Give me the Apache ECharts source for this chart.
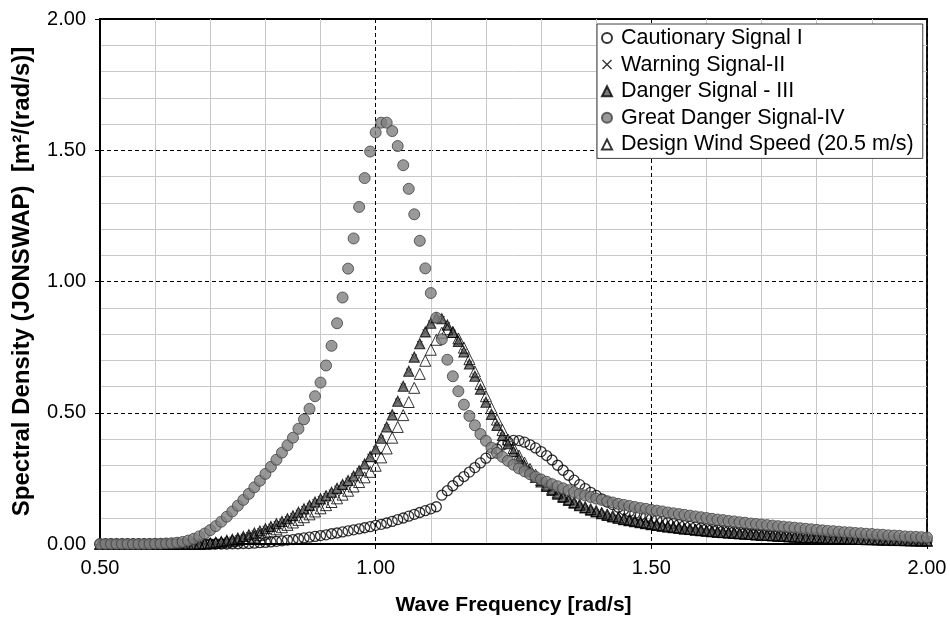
<!DOCTYPE html>
<html>
<head>
<meta charset="utf-8">
<script src="https://cdn.jsdelivr.net/npm/echarts@6/dist/echarts.min.js"></script>
<style>
html,body{margin:0;padding:0;background:#fff;}
#chart{width:950px;height:621px;}
</style>
</head>
<body>
<div id="chart"></div>
<script>
// Wave frequency [rad/s]
const frequencies = [
0.50,0.51,0.52,0.53,0.54,0.55,0.56,0.57,0.58,0.59,
0.60,0.61,0.62,0.63,0.64,0.65,0.66,0.67,0.68,0.69,
0.70,0.71,0.72,0.73,0.74,0.75,0.76,0.77,0.78,0.79,
0.80,0.81,0.82,0.83,0.84,0.85,0.86,0.87,0.88,0.89,
0.90,0.91,0.92,0.93,0.94,0.95,0.96,0.97,0.98,0.99,
1.00,1.01,1.02,1.03,1.04,1.05,1.06,1.07,1.08,1.09,
1.10,1.11,1.12,1.13,1.14,1.15,1.16,1.17,1.18,1.19,
1.20,1.21,1.22,1.23,1.24,1.25,1.26,1.27,1.28,1.29,
1.30,1.31,1.32,1.33,1.34,1.35,1.36,1.37,1.38,1.39,
1.40,1.41,1.42,1.43,1.44,1.45,1.46,1.47,1.48,1.49,
1.50,1.51,1.52,1.53,1.54,1.55,1.56,1.57,1.58,1.59,
1.60,1.61,1.62,1.63,1.64,1.65,1.66,1.67,1.68,1.69,
1.70,1.71,1.72,1.73,1.74,1.75,1.76,1.77,1.78,1.79,
1.80,1.81,1.82,1.83,1.84,1.85,1.86,1.87,1.88,1.89,
1.90,1.91,1.92,1.93,1.94,1.95,1.96,1.97,1.98,1.99,
2.00];

const cautionarySignal = [
0,0,0,0,0,0,0,0,0,0,
0,0,0,0,0,0,0,0,0,0,
0,0,0,0,0.001,0.001,0.002,0.002,0.003,0.005,
0.006,0.008,0.010,0.012,0.015,0.017,0.020,0.023,0.026,0.029,
0.032,0.035,0.039,0.042,0.046,0.050,0.054,0.058,0.062,0.066,
0.071,0.075,0.080,0.086,0.093,0.099,0.106,0.113,0.120,0.127,
0.134,0.142,0.186,0.203,0.222,0.240,0.257,0.274,0.291,0.309,
0.327,0.345,0.362,0.377,0.389,0.395,0.394,0.388,0.378,0.366,
0.352,0.337,0.320,0.300,0.281,0.262,0.243,0.226,0.211,0.197,
0.185,0.172,0.160,0.150,0.140,0.131,0.123,0.116,0.109,0.102,
0.096,0.091,0.086,0.082,0.078,0.074,0.070,0.067,0.064,0.061,
0.058,0.055,0.053,0.050,0.048,0.046,0.044,0.042,0.040,0.039,
0.037,0.036,0.034,0.033,0.032,0.030,0.029,0.028,0.027,0.026,
0.025,0.024,0.023,0.023,0.022,0.021,0.020,0.020,0.019,0.018,
0.018,0.017,0.016,0.016,0.015,0.015,0.014,0.014,0.013,0.013,
0.012];

// Warning Signal-II markers lie under the Danger Signal - III triangles
const warningSignal = [
0,0,0,0,0,0,0,0,0,0,
0,0,0,0,0,0,0,0,0.001,0.002,
0.004,0.007,0.010,0.014,0.018,0.023,0.029,0.035,0.042,0.050,
0.058,0.067,0.077,0.086,0.096,0.108,0.121,0.134,0.147,0.160,
0.172,0.184,0.197,0.212,0.227,0.242,0.259,0.279,0.305,0.333,
0.362,0.403,0.446,0.492,0.544,0.601,0.658,0.712,0.763,0.808,
0.841,0.862,0.858,0.834,0.806,0.772,0.732,0.686,0.639,0.590,
0.540,0.494,0.452,0.414,0.382,0.352,0.324,0.298,0.275,0.254,
0.236,0.219,0.204,0.190,0.177,0.166,0.155,0.146,0.137,0.129,
0.122,0.115,0.109,0.103,0.098,0.093,0.089,0.085,0.081,0.077,
0.074,0.071,0.068,0.065,0.062,0.060,0.057,0.055,0.053,0.051,
0.049,0.047,0.045,0.044,0.042,0.041,0.039,0.038,0.036,0.035,
0.034,0.033,0.032,0.030,0.029,0.028,0.027,0.026,0.025,0.025,
0.024,0.023,0.022,0.021,0.021,0.020,0.019,0.019,0.018,0.017,
0.017,0.016,0.016,0.015,0.015,0.014,0.014,0.013,0.013,0.012,
0.012];

const dangerSignal = [
0,0,0,0,0,0,0,0,0,0,
0,0,0,0,0,0,0,0,0.001,0.002,
0.004,0.007,0.010,0.014,0.018,0.023,0.029,0.035,0.042,0.050,
0.058,0.067,0.077,0.086,0.096,0.108,0.121,0.134,0.147,0.160,
0.172,0.184,0.197,0.212,0.227,0.242,0.259,0.279,0.305,0.333,
0.362,0.403,0.446,0.492,0.544,0.601,0.658,0.712,0.763,0.808,
0.841,0.862,0.858,0.834,0.806,0.772,0.732,0.686,0.639,0.590,
0.540,0.494,0.452,0.414,0.382,0.352,0.324,0.298,0.275,0.254,
0.236,0.219,0.204,0.190,0.177,0.166,0.155,0.146,0.137,0.129,
0.122,0.115,0.109,0.103,0.098,0.093,0.089,0.085,0.081,0.077,
0.074,0.071,0.068,0.065,0.062,0.060,0.057,0.055,0.053,0.051,
0.049,0.047,0.045,0.044,0.042,0.041,0.039,0.038,0.036,0.035,
0.034,0.033,0.032,0.030,0.029,0.028,0.027,0.026,0.025,0.025,
0.024,0.023,0.022,0.021,0.021,0.020,0.019,0.019,0.018,0.017,
0.017,0.016,0.016,0.015,0.015,0.014,0.014,0.013,0.013,0.012,
0.012];

const greatDangerSignal = [
0,0,0,0,0,0,0,0,0,0,
0.001,0.001,0.002,0.003,0.005,0.008,0.013,0.020,0.029,0.040,
0.053,0.068,0.085,0.104,0.124,0.146,0.168,0.191,0.216,0.241,
0.267,0.294,0.321,0.348,0.376,0.405,0.439,0.475,0.515,0.563,
0.615,0.680,0.755,0.841,0.939,1.049,1.164,1.284,1.394,1.495,
1.568,1.605,1.605,1.573,1.516,1.443,1.353,1.256,1.155,1.050,
0.956,0.862,0.780,0.702,0.639,0.582,0.531,0.488,0.452,0.419,
0.393,0.367,0.347,0.332,0.317,0.302,0.288,0.277,0.266,0.256,
0.246,0.237,0.228,0.220,0.212,0.205,0.198,0.191,0.185,0.179,
0.173,0.168,0.163,0.158,0.153,0.149,0.145,0.141,0.137,0.134,
0.130,0.127,0.124,0.120,0.117,0.114,0.111,0.108,0.105,0.102,
0.099,0.096,0.093,0.091,0.088,0.086,0.083,0.081,0.078,0.076,
0.074,0.072,0.070,0.068,0.066,0.064,0.062,0.060,0.058,0.056,
0.054,0.052,0.050,0.049,0.047,0.045,0.044,0.042,0.041,0.039,
0.038,0.036,0.035,0.033,0.032,0.031,0.029,0.028,0.027,0.026,
0.025];

const designWindSpeed = [
0,0,0,0,0,0,0,0,0,0,
0,0,0,0,0,0,0,0,0,0.001,
0.002,0.004,0.006,0.009,0.012,0.015,0.019,0.023,0.028,0.034,
0.040,0.048,0.056,0.064,0.073,0.082,0.092,0.102,0.113,0.124,
0.136,0.148,0.160,0.174,0.188,0.203,0.219,0.236,0.254,0.275,
0.298,0.330,0.364,0.405,0.446,0.491,0.541,0.595,0.648,0.698,
0.740,0.778,0.805,0.818,0.808,0.783,0.748,0.704,0.657,0.610,
0.563,0.518,0.474,0.434,0.398,0.366,0.337,0.310,0.286,0.264,
0.244,0.226,0.210,0.196,0.183,0.171,0.160,0.150,0.141,0.133,
0.126,0.119,0.113,0.107,0.101,0.096,0.092,0.088,0.084,0.080,
0.077,0.073,0.070,0.067,0.065,0.062,0.059,0.057,0.055,0.053,
0.051,0.049,0.047,0.045,0.044,0.042,0.041,0.039,0.038,0.036,
0.035,0.034,0.033,0.032,0.031,0.029,0.028,0.027,0.026,0.026,
0.025,0.024,0.023,0.022,0.022,0.021,0.020,0.019,0.019,0.018,
0.018,0.017,0.016,0.016,0.015,0.015,0.014,0.014,0.013,0.013,
0.012];

const seriesNames = ['Cautionary Signal I','Warning Signal-II','Danger Signal - III','Great Danger Signal-IV','Design Wind Speed (20.5 m/s)'];
const xTickDecimals = 2;
const yTickDecimals = 2;

const FONT = "'Liberation Sans', Arial, Helvetica, sans-serif";
function pairs(vals){ return frequencies.map((f,i)=>[f, vals[i]]); }
const crossPath = 'path://M0,1L1,0L5,4L9,0L10,1L6,5L10,9L9,10L5,6L1,10L0,9L4,5Z';

const chart = echarts.init(document.getElementById('chart'), null, {renderer:'canvas'});
chart.setOption({
  animation:false,
  backgroundColor:'#ffffff',
  grid:{left:100,right:23,top:19,bottom:74,show:true,borderColor:'#000',borderWidth:1.8,backgroundColor:'transparent'},
  legend:{
    data:seriesNames,
    orient:'vertical',
    left:597, top:24,
    padding:[3,9,3,4],
    itemGap:4.6,
    itemWidth:10, itemHeight:10,
    backgroundColor:'#fff',
    borderColor:'#404040', borderWidth:1,
    textStyle:{fontFamily:FONT,fontSize:21.5,color:'#000',lineHeight:21,padding:[0,0,0,4]},
    selectedMode:false
  },
  xAxis:{
    type:'value', min:0.5, max:2.0, interval:0.5,
    name:'Wave Frequency [rad/s]', nameLocation:'middle', nameGap:51,
    nameTextStyle:{fontFamily:FONT,fontSize:21,fontWeight:'bold',color:'#000'},
    axisLine:{show:true,onZero:false,lineStyle:{color:'#000',width:2}},
    axisTick:{show:true,inside:false,length:5,lineStyle:{color:'#000',width:1}},
    axisLabel:{fontFamily:FONT,fontSize:20,color:'#000',margin:14,formatter:v=>v.toFixed(xTickDecimals)},
    splitLine:{show:true,lineStyle:{color:'#000',width:1,type:[4,3]}},
    minorTick:{show:false,splitNumber:5},
    minorSplitLine:{show:true,lineStyle:{color:'#c8c8c8',width:1}}
  },
  yAxis:{
    type:'value', min:0, max:2.0, interval:0.5,
    name:'Spectral Density (JONSWAP)  [m²/(rad/s)]', nameLocation:'middle', nameGap:66, nameRotate:90,
    nameTextStyle:{fontFamily:FONT,fontSize:24,fontWeight:'bold',color:'#000'},
    axisLine:{show:true,onZero:false,lineStyle:{color:'#000',width:2}},
    axisTick:{show:true,inside:false,length:5,lineStyle:{color:'#000',width:1}},
    axisLabel:{fontFamily:FONT,fontSize:20,color:'#000',margin:14,formatter:v=>v.toFixed(yTickDecimals)},
    splitLine:{show:true,lineStyle:{color:'#000',width:1,type:[4,3]}},
    minorTick:{show:false,splitNumber:5},
    minorSplitLine:{show:true,lineStyle:{color:'#c8c8c8',width:1}}
  },
  series:[
    {name:seriesNames[0],type:'scatter',data:pairs(cautionarySignal),symbol:'circle',symbolSize:10,
     itemStyle:{color:'rgba(255,255,255,0)',borderColor:'#000',borderWidth:1.3},z:2,emphasis:{disabled:true}},
    {name:seriesNames[1],type:'scatter',data:pairs(warningSignal),symbol:crossPath,symbolSize:6,
     itemStyle:{color:'#000'},z:2,emphasis:{disabled:true}},
    {name:seriesNames[2],type:'scatter',data:pairs(dangerSignal),symbol:'triangle',symbolSize:10,
     itemStyle:{color:'#595959',borderColor:'#000',borderWidth:1.1},z:2,emphasis:{disabled:true}},
    {name:seriesNames[4],type:'scatter',data:pairs(designWindSpeed),symbol:'triangle',symbolSize:11,
     itemStyle:{color:'rgba(255,255,255,0)',borderColor:'#000',borderWidth:1},z:2,emphasis:{disabled:true}},
    {name:seriesNames[3],type:'scatter',data:pairs(greatDangerSignal),symbol:'circle',symbolSize:11,
     itemStyle:{color:'#808080',borderColor:'#404040',borderWidth:1},z:2,emphasis:{disabled:true}}
  ]
});
</script>
</body>
</html>
